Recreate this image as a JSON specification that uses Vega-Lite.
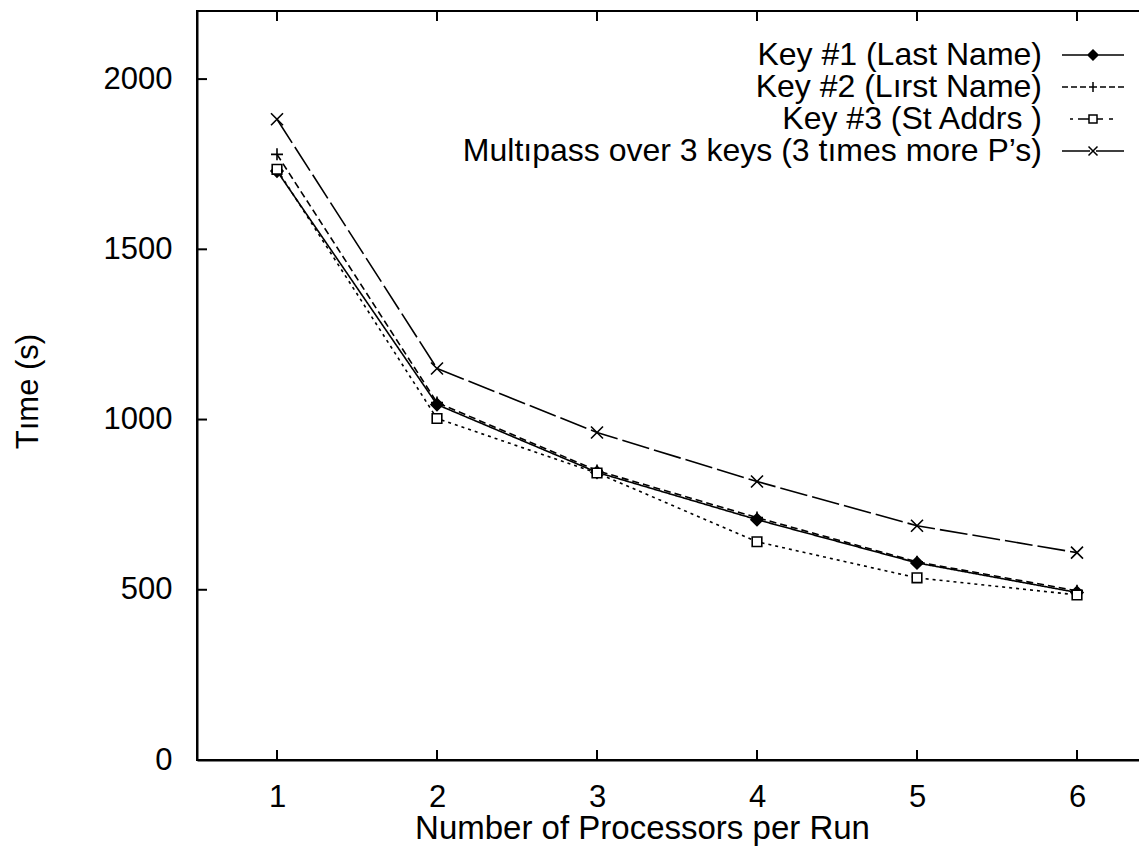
{
  "$schema": "https://vega.github.io/schema/vega-lite/v6.json",
  "autosize": "none",
  "padding": {"left": 197, "top": 11, "right": 0, "bottom": 86},
  "width": 960,
  "height": 749,
  "background": "white",
  "config": {
    "font": "Liberation Sans",
    "view": {"stroke": "black", "strokeWidth": 2},
    "axis": {
      "grid": false,
      "domainColor": "black",
      "domainWidth": 2,
      "ticks": false,
      "tickSize": 0,
      "labelFont": "Liberation Sans",
      "labelFontSize": 31,
      "labelColor": "black",
      "titleFont": "Liberation Sans",
      "titleFontSize": 31,
      "titleFontWeight": "normal",
      "titleColor": "black"
    }
  },
  "data": {
    "values": [
      {"series": "Key #1 (Last Name)", "p": 1, "t": 1730},
      {"series": "Key #1 (Last Name)", "p": 2, "t": 1044},
      {"series": "Key #1 (Last Name)", "p": 3, "t": 845},
      {"series": "Key #1 (Last Name)", "p": 4, "t": 706},
      {"series": "Key #1 (Last Name)", "p": 5, "t": 579},
      {"series": "Key #1 (Last Name)", "p": 6, "t": 492},
      {"series": "Key #2 (Lırst Name)", "p": 1, "t": 1779},
      {"series": "Key #2 (Lırst Name)", "p": 2, "t": 1050},
      {"series": "Key #2 (Lırst Name)", "p": 3, "t": 850},
      {"series": "Key #2 (Lırst Name)", "p": 4, "t": 712},
      {"series": "Key #2 (Lırst Name)", "p": 5, "t": 582},
      {"series": "Key #2 (Lırst Name)", "p": 6, "t": 497},
      {"series": "Key #3 (St  Addrs )", "p": 1, "t": 1735},
      {"series": "Key #3 (St  Addrs )", "p": 2, "t": 1003},
      {"series": "Key #3 (St  Addrs )", "p": 3, "t": 843},
      {"series": "Key #3 (St  Addrs )", "p": 4, "t": 641},
      {"series": "Key #3 (St  Addrs )", "p": 5, "t": 535},
      {"series": "Key #3 (St  Addrs )", "p": 6, "t": 485},
      {"series": "Multıpass over 3 keys (3 tımes more P’s)", "p": 1, "t": 1882},
      {"series": "Multıpass over 3 keys (3 tımes more P’s)", "p": 2, "t": 1150},
      {"series": "Multıpass over 3 keys (3 tımes more P’s)", "p": 3, "t": 962},
      {"series": "Multıpass over 3 keys (3 tımes more P’s)", "p": 4, "t": 818},
      {"series": "Multıpass over 3 keys (3 tımes more P’s)", "p": 5, "t": 688},
      {"series": "Multıpass over 3 keys (3 tımes more P’s)", "p": 6, "t": 609}
    ]
  },
  "layer": [
    {
      "mark": {"type": "line", "color": "black", "strokeWidth": 1.6},
      "encoding": {
        "x": {
          "field": "p", "type": "quantitative",
          "scale": {"domain": [0.5, 6.5], "nice": false, "zero": false},
          "axis": {
            "orient": "bottom",
            "values": [1, 2, 3, 4, 5, 6],
            "format": "d",
            "title": "Number of Processors per Run",
            "labelPadding": 22,
            "titleX": 445,
            "titleY": 68,
            "titleFontSize": 33,
            "titleBaseline": "middle",
            "titleAnchor": "middle",
            "titleAlign": "center"
          }
        },
        "y": {
          "field": "t", "type": "quantitative",
          "scale": {"domain": [0, 2200], "nice": false},
          "axis": {
            "values": [0, 500, 1000, 1500, 2000],
            "format": "d",
            "title": "Tıme (s)",
            "labelPadding": 25,
            "titleAngle": 270,
            "titleX": -169,
            "titleY": 380,
            "titleBaseline": "middle",
            "titleAlign": "center"
          }
        },
        "detail": {"field": "series"},
        "strokeDash": {
          "field": "series", "type": "nominal",
          "scale": {
            "domain": ["Key #1 (Last Name)", "Key #2 (Lırst Name)", "Key #3 (St  Addrs )", "Multıpass over 3 keys (3 tımes more P’s)"],
            "range": [[1, 0], [7, 4], [3, 4], [28, 5]]
          },
          "legend": null
        }
      }
    },
    {
      "mark": {"type": "point", "filled": true, "stroke": "black", "strokeWidth": 1.6, "size": 144, "opacity": 1},
      "encoding": {
        "x": {"field": "p", "type": "quantitative"},
        "y": {"field": "t", "type": "quantitative"},
        "shape": {
          "field": "series", "type": "nominal",
          "scale": {
            "domain": ["Key #1 (Last Name)", "Key #2 (Lırst Name)", "Key #3 (St  Addrs )", "Multıpass over 3 keys (3 tımes more P’s)"],
            "range": ["M0,-1L1,0L0,1L-1,0Z", "M-1,0H1M0,-1V1", "M-0.8,-0.8H0.8V0.8H-0.8Z", "M-1,-1L1,1M-1,1L1,-1"]
          },
          "legend": null
        },
        "fill": {
          "field": "series", "type": "nominal",
          "scale": {
            "domain": ["Key #1 (Last Name)", "Key #2 (Lırst Name)", "Key #3 (St  Addrs )", "Multıpass over 3 keys (3 tımes more P’s)"],
            "range": ["black", "white", "white", "white"]
          },
          "legend": null
        }
      }
    },
    {
      "transform": [{"filter": "datum.p > 100"}],
      "mark": {"type": "point", "filled": false, "color": "black", "strokeWidth": 1.5},
      "encoding": {
        "x": {"field": "p", "type": "quantitative"},
        "y": {"field": "t", "type": "quantitative"},
        "shape": {
          "field": "series", "type": "nominal",
          "scale": {
            "domain": ["Key #1 (Last Name)", "Key #2 (Lırst Name)", "Key #3 (St  Addrs )", "Multıpass over 3 keys (3 tımes more P’s)"],
            "range": [
              "M-3.1,0H3.1M0,-0.5L0.5,0L0,0.5L-0.5,0ZM0,-0.35L0.35,0L0,0.35L-0.35,0ZM0,-0.2L0.2,0L0,0.2L-0.2,0Z",
              "M-3.1,0H-2.5M-2.2,0H-1.6M-1.3,0H-0.7M-0.4,0H0.4M0.7,0H1.3M1.6,0H2.2M2.5,0H3.1M0,-0.5V0.5",
              "M-2.3,0H-2.0M-1.5,0H-0.4M0.4,0H1.0M1.6,0H2.0M-0.4,-0.4H0.4V0.4H-0.4Z",
              "M-3.1,0H-0.3M0.3,0H3.1M-0.45,-0.45L0.45,0.45M-0.45,0.45L0.45,-0.45"
            ]
          },
          "legend": {
            "orient": "none",
            "legendX": 880,
            "legendY": 28,
            "title": null,
            "padding": 0,
            "symbolSize": 400,
            "symbolOpacity": 1,
            "symbolStrokeWidth": 1.5,
            "symbolStrokeColor": "black",
            "symbolFillColor": "transparent",
            "labelFont": "Liberation Sans",
            "labelFontSize": 32,
            "labelColor": "black",
            "labelLimit": 0,
            "labelAlign": "right",
            "labelOffset": -67,
            "rowPadding": -1,
            "encode": {
              "symbols": {
                "stroke": {"value": "black"},
                "strokeOpacity": {"value": 1},
                "opacity": {"value": 1},
                "strokeWidth": {"value": 1.5}
              }
            }
          }
        }
      }
    },
    {
      "data": {"values": [{"p": 1}, {"p": 2}, {"p": 3}, {"p": 4}, {"p": 5}, {"p": 6}]},
      "mark": {"type": "tick", "orient": "vertical", "color": "black", "size": 10, "thickness": 2, "yOffset": -5, "opacity": 1},
      "encoding": {
        "x": {"field": "p", "type": "quantitative"},
        "y": {"datum": 0}
      }
    },
    {
      "data": {"values": [{"p": 1}, {"p": 2}, {"p": 3}, {"p": 4}, {"p": 5}, {"p": 6}]},
      "mark": {"type": "tick", "orient": "vertical", "color": "black", "size": 10, "thickness": 2, "yOffset": 5, "opacity": 1},
      "encoding": {
        "x": {"field": "p", "type": "quantitative"},
        "y": {"datum": 2200}
      }
    },
    {
      "data": {"values": [{"t": 0}, {"t": 500}, {"t": 1000}, {"t": 1500}, {"t": 2000}]},
      "mark": {"type": "tick", "orient": "horizontal", "color": "black", "size": 10, "thickness": 2, "xOffset": 5, "opacity": 1},
      "encoding": {
        "x": {"datum": 0.5},
        "y": {"field": "t", "type": "quantitative"}
      }
    }
  ],
  "resolve": {
    "scale": {"shape": "independent", "strokeDash": "independent", "fill": "independent"}
  }
}
